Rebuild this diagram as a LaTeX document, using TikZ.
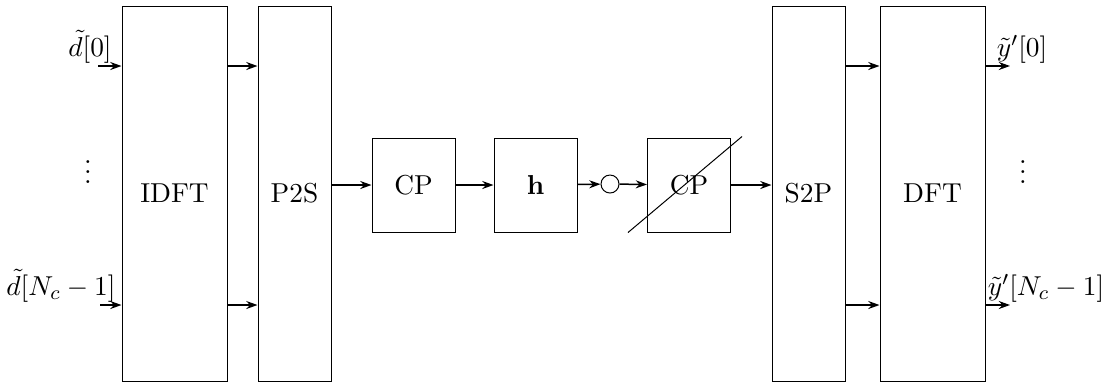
\documentclass[11pt,tikz,border=0pt]{standalone}
\usepackage{amsmath,amssymb}
\usepackage{tikz}
\usetikzlibrary{arrows.meta,positioning,calc}

\begin{document}
\begin{tikzpicture}[
    x=0.4pt, y=-0.4pt,
    block/.style={draw, thin},
    tall/.style={block, minimum height=150pt},
    small/.style={block, minimum width=33.2pt, minimum height=37.6pt},
    arr/.style={-{Stealth[length=4.5pt, width=3.2pt]}, semithick},
    sig/.style={inner sep=1pt},
  ]
  \useasboundingbox (0,0) rectangle (1119,383);

  % Rows of the parallel lines
  \coordinate (top) at (0,66);
  \coordinate (bot) at (0,305);

  % Transmitter blocks
  \node[tall, minimum width=42pt] (idft) at (174.5,193.5) {IDFT};
  \node[tall, minimum width=29.2pt] (p2s) at (294.5,193.5) {P2S};

  % Channel path
  \node[small] (cp) at (413.5,185) {CP};
  \node[small] (chan) at (535.5,185) {$\mathbf{h}$};
  \node[draw, thin, circle, minimum size=7.2pt, inner sep=0pt] (noise) at (610,184) {};
  \node[small] (rmcp) at (689,185) {CP};

  % Receiver blocks
  \node[tall, minimum width=29.2pt] (s2p) at (808.5,193.5) {S2P};
  \node[tall, minimum width=42pt] (dft) at (932.5,193.5) {DFT};

  % Inputs
  \coordinate (in0) at (98,66);
  \coordinate (in1) at (100,305);
  \draw[arr] (in0) -- (idft.west |- top);
  \draw[arr] (in1) -- (idft.west |- bot);
  \node[sig, anchor=south] (d0) at (90,66) {$\tilde{d}[0]$};
  \node[sig, anchor=south] (d1) at (61,305) {$\tilde{d}[N_c-1]$};
  \node (ldots) at (88,165) {$\vdots$};

  % Parallel connections
  \draw[arr] (idft.east |- top) -- (p2s.west |- top);
  \draw[arr] (idft.east |- bot) -- (p2s.west |- bot);
  \draw[arr] (s2p.east |- top) -- (dft.west |- top);
  \draw[arr] (s2p.east |- bot) -- (dft.west |- bot);

  % Serial chain
  \draw[arr] (p2s.east |- cp) -- (cp.west);
  \draw[arr] (cp) -- (chan);
  \draw[arr] (chan) -- (noise);
  \draw[arr] (noise) -- (rmcp);
  \draw[arr, thick] (rmcp.east) -- (s2p.west |- rmcp);

  % CP removal
  \draw[thin] ($(rmcp.south west)+(-19,0)$) -- ($(rmcp.north east)+(11,-1)$);

  % Outputs
  \coordinate (out0) at (1010,66);
  \coordinate (out1) at (1010,305);
  \draw[arr] (dft.east |- top) -- (out0);
  \draw[arr] (dft.east |- bot) -- (out1);
  \node[sig, anchor=south] (y0) at (1022,66) {$\tilde{y}'[0]$};
  \node[sig, anchor=south] (y1) at (1046,305) {$\tilde{y}'[N_c-1]$};
  \node (rdots) at (1023,165) {$\vdots$};
\end{tikzpicture}
\end{document}
